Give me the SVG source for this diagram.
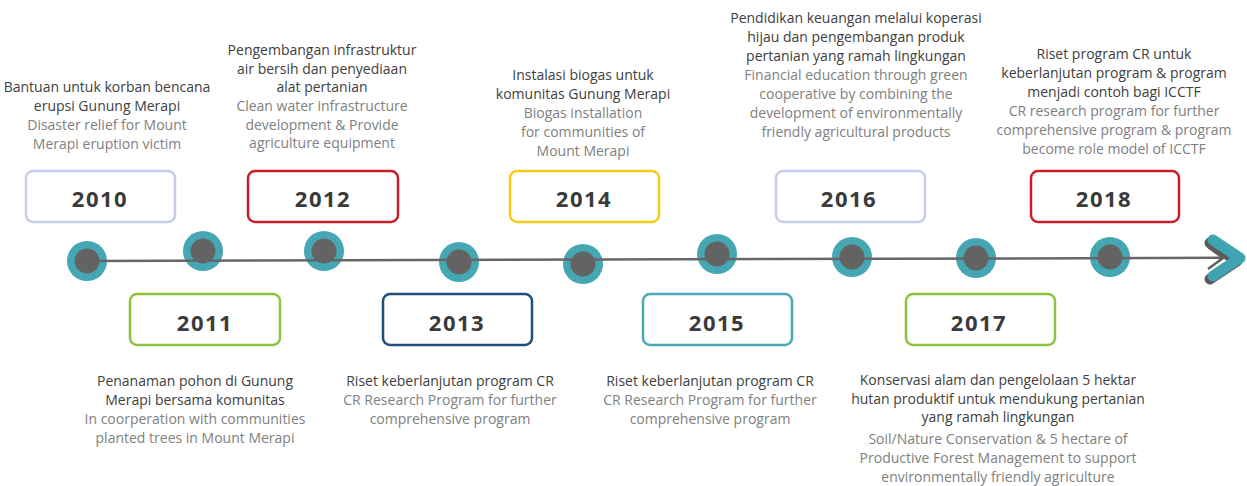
<svg xmlns="http://www.w3.org/2000/svg" width="1247" height="486" viewBox="0 0 1247 486">
<style>
.box{fill:#fff;stroke-width:2.5}
.yr{font-family:"Open Sans",sans-serif;font-weight:700;font-size:22px;fill:#3a3a3a;text-anchor:middle;letter-spacing:1.5px}
.t{font-family:"Open Sans",sans-serif;font-size:14px;text-anchor:middle}
.id{fill:#404040}
.en{fill:#808080}
.ring{fill:#45a7b3}
.dot{fill:#636363}
</style>
<g id="markers">
<g class="ring"><circle cx="87" cy="261" r="20"/><circle cx="203" cy="251" r="20"/><circle cx="324" cy="251" r="20"/><circle cx="459" cy="262" r="20"/><circle cx="583" cy="264" r="20"/><circle cx="717" cy="254" r="20"/><circle cx="852" cy="257" r="20"/><circle cx="976" cy="258" r="20"/><circle cx="1110" cy="257" r="20"/></g>
</g>
<g id="connectors">
<path d="M87,261 L1224,257.8" fill="none" stroke="#666" stroke-width="2.5"/>
<polyline points="1210,243 1237,261 1210,279" fill="none" stroke="#5a5a5a" stroke-width="11" stroke-linecap="round" stroke-linejoin="round"/>
<polyline points="1213,240 1240,258 1213,276" fill="none" stroke="#3fa3b0" stroke-width="11" stroke-linecap="round" stroke-linejoin="round"/>
<polyline points="1208,247 1223,258 1208,269" fill="none" stroke="#5f5f5f" stroke-width="2.5"/>
</g>
<g class="dot"><circle cx="87" cy="261" r="12.5"/><circle cx="203" cy="251" r="12.5"/><circle cx="324" cy="251" r="12.5"/><circle cx="459" cy="262" r="12.5"/><circle cx="583" cy="264" r="12.5"/><circle cx="717" cy="254" r="12.5"/><circle cx="852" cy="257" r="12.5"/><circle cx="976" cy="258" r="12.5"/><circle cx="1110" cy="257" r="12.5"/></g>

<g id="y2010">
<rect class="box" x="26" y="171" width="149" height="51" rx="7" stroke="#c5cde8"/>
<text class="yr" x="100" y="207">2010</text>
<text class="t" x="107"><tspan class="id" x="107" y="92">Bantuan untuk korban bencana</tspan><tspan class="id" x="107" y="111">erupsi Gunung Merapi</tspan><tspan class="en" x="107" y="130">Disaster relief for Mount</tspan><tspan class="en" x="107" y="149">Merapi eruption victim</tspan></text>
</g>
<g id="y2011">
<rect class="box" x="130" y="294" width="150" height="51" rx="7" stroke="#8cc43f"/>
<text class="yr" x="205" y="331">2011</text>
<text class="t"><tspan class="id" x="195" y="386">Penanaman pohon di Gunung</tspan><tspan class="id" x="195" y="405">Merapi bersama komunitas</tspan><tspan class="en" x="195" y="424">In coorperation with communities</tspan><tspan class="en" x="195" y="443">planted trees in Mount Merapi</tspan></text>
</g>
<g id="y2012">
<rect class="box" x="248" y="171" width="150" height="51" rx="7" stroke="#c8202a"/>
<text class="yr" x="323" y="207">2012</text>
<text class="t"><tspan class="id" x="322" y="55">Pengembangan infrastruktur</tspan><tspan class="id" x="322" y="74">air bersih dan penyediaan</tspan><tspan class="id" x="322" y="92">alat pertanian</tspan><tspan class="en" x="322" y="111">Clean water infrastructure</tspan><tspan class="en" x="322" y="130">development &amp; Provide</tspan><tspan class="en" x="322" y="148">agriculture equipment</tspan></text>
</g>
<g id="y2013">
<rect class="box" x="383" y="294" width="149" height="51" rx="7" stroke="#1d4f7c"/>
<text class="yr" x="457" y="331">2013</text>
<text class="t"><tspan class="id" x="450" y="386">Riset keberlanjutan program CR</tspan><tspan class="en" x="450" y="405">CR Research Program for further</tspan><tspan class="en" x="450" y="424">comprehensive program</tspan></text>
</g>
<g id="y2014">
<rect class="box" x="510" y="171" width="149" height="51" rx="7" stroke="#f5cc1a"/>
<text class="yr" x="584" y="207">2014</text>
<text class="t"><tspan class="id" x="583" y="80">Instalasi biogas untuk</tspan><tspan class="id" x="583" y="99">komunitas Gunung Merapi</tspan><tspan class="en" x="583" y="118">Biogas installation</tspan><tspan class="en" x="583" y="137">for communities of</tspan><tspan class="en" x="583" y="156">Mount Merapi</tspan></text>
</g>
<g id="y2015">
<rect class="box" x="643" y="294" width="149" height="51" rx="7" stroke="#4aa9b5"/>
<text class="yr" x="717" y="331">2015</text>
<text class="t"><tspan class="id" x="710" y="386">Riset keberlanjutan program CR</tspan><tspan class="en" x="710" y="405">CR Research Program for further</tspan><tspan class="en" x="710" y="424">comprehensive program</tspan></text>
</g>
<g id="y2016">
<rect class="box" x="776" y="171" width="149" height="51" rx="7" stroke="#c5cde8"/>
<text class="yr" x="849" y="207">2016</text>
<text class="t"><tspan class="id" x="856" y="23">Pendidikan keuangan melalui koperasi</tspan><tspan class="id" x="856" y="42">hijau dan pengembangan produk</tspan><tspan class="id" x="856" y="61">pertanian yang ramah lingkungan</tspan><tspan class="en" x="856" y="80">Financial education through green</tspan><tspan class="en" x="856" y="99">cooperative by combining the</tspan><tspan class="en" x="856" y="118">development of environmentally</tspan><tspan class="en" x="856" y="137">friendly agricultural products</tspan></text>
</g>
<g id="y2017">
<rect class="box" x="906" y="294" width="149" height="51" rx="7" stroke="#8cc43f"/>
<text class="yr" x="979" y="331">2017</text>
<text class="t"><tspan class="id" x="998" y="385">Konservasi alam dan pengelolaan 5 hektar</tspan><tspan class="id" x="998" y="404">hutan produktif untuk mendukung pertanian</tspan><tspan class="id" x="998" y="422">yang ramah lingkungan</tspan><tspan class="en" x="998" y="444">Soil/Nature Conservation &amp; 5 hectare of</tspan><tspan class="en" x="998" y="463">Productive Forest Management to support</tspan><tspan class="en" x="998" y="482">environmentally friendly agriculture</tspan></text>
</g>
<g id="y2018">
<rect class="box" x="1031" y="171" width="148" height="51" rx="7" stroke="#c8202a"/>
<text class="yr" x="1104" y="207">2018</text>
<text class="t"><tspan class="id" x="1114" y="59">Riset program CR untuk</tspan><tspan class="id" x="1114" y="78">keberlanjutan program &amp; program</tspan><tspan class="id" x="1114" y="97">menjadi contoh bagi ICCTF</tspan><tspan class="en" x="1114" y="116">CR research program for further</tspan><tspan class="en" x="1114" y="135">comprehensive program &amp; program</tspan><tspan class="en" x="1114" y="154">become role model of ICCTF</tspan></text>
</g>
</svg>
